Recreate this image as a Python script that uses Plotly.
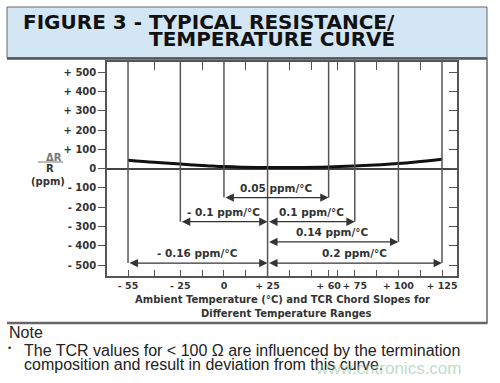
import plotly.graph_objects as go

# ---------------- data ----------------
curve_temp = [-55, -40, -25, -10, 0, 10, 25, 40, 60, 75, 90, 100, 110, 125]
curve_ppm = [44, 33, 24, 16, 11, 8, 6, 6, 9, 14, 21, 27, 35, 49]

x_major = [-55, -25, 0, 25, 60, 75, 100, 125]
x_major_text = ["- 55", "- 25", "0", "+ 25", "+ 60", "+ 75", "+ 100", "+ 125"]
x_minor = [-40, -12.5, 12.5, 37.5, 50, 65, 87.5, 112.5]

y_ticks = [500, 400, 300, 200, 100, 0, -100, -200, -300, -400, -500]
y_ticks_text = ["+ 500", "+ 400", "+ 300", "+ 200", "+ 100", "0",
                "- 100", "- 200", "- 300", "- 400", "- 500"]

chord_label = ["0.05 ppm/°C", "- 0.1 ppm/°C", "0.1 ppm/°C",
               "0.14 ppm/°C", "- 0.16 ppm/°C", "0.2 ppm/°C"]
chord_start = [0, -25, 25, 25, -55, 25]
chord_end = [60, 25, 75, 100, 25, 125]
chord_level = [-150, -275, -275, -380, -490, -490]

# lowest point of each vertical guide line (ppm)
grid_bottom = [-490, -275, -150, -557, -150, -275, -380, -490]

x_range = [-67.05, 133.6]
y_range = [-557, 554]

# ---------------- layout helpers (pixel -> paper) ----------------
L, R, T, B = 107, 457, 62, 276
W, H = R - L, B - T


def px(x):
    return (x - L) / W


def py(y):
    return (B - y) / H


CH = "DejaVu Sans"
NF = "Liberation Sans"
dark = "#333333"
linec = "#555555"

fig = go.Figure()

fig.add_trace(go.Scatter(
    x=curve_temp, y=curve_ppm, mode="lines",
    line=dict(color="#111111", width=3, shape="spline"),
    hoverinfo="skip", showlegend=False))

# invisible trace for secondary axes
fig.add_trace(go.Scatter(x=[0], y=[0], xaxis="x2", yaxis="y2", mode="markers",
                         marker=dict(opacity=0), showlegend=False, hoverinfo="skip"))

shapes = []
# vertical guide lines
for t, yb in zip(x_major, grid_bottom):
    shapes.append(dict(type="line", xref="x", yref="y", x0=t, x1=t, y0=yb, y1=y_range[1],
                       line=dict(color=linec, width=1.5)))

# banner & frame
shapes.append(dict(type="rect", xref="paper", yref="paper",
                   x0=px(7), x1=px(487), y0=py(58), y1=py(7),
                   fillcolor="#d3e6f4", line=dict(color="#666666", width=1), layer="below"))
shapes.append(dict(type="line", xref="paper", yref="paper",
                   x0=px(7), x1=px(487), y0=py(58.5), y1=py(58.5),
                   line=dict(color="#555555", width=2.5)))
shapes.append(dict(type="line", xref="paper", yref="paper",
                   x0=px(487), x1=px(487), y0=py(58), y1=py(323),
                   line=dict(color="#666666", width=1.5)))
shapes.append(dict(type="line", xref="paper", yref="paper",
                   x0=px(7), x1=px(487.5), y0=py(323), y1=py(323),
                   line=dict(color="#666666", width=2.5)))
# fraction bar of ΔR/R
shapes.append(dict(type="line", xref="paper", yref="paper",
                   x0=px(38), x1=px(63), y0=py(162), y1=py(162),
                   line=dict(color="#777777", width=1)))

ann = []
# chord arrows and labels
for lab, s, e, lv in zip(chord_label, chord_start, chord_end, chord_level):
    ann.append(dict(x=e, y=lv, ax=s, ay=lv, xref="x", yref="y", axref="x", ayref="y",
                    text="", showarrow=True, arrowhead=2, arrowside="end+start",
                    arrowsize=1.4, arrowwidth=1.2, arrowcolor=dark,
                    standoff=0, startstandoff=0))
    ann.append(dict(x=(s + e) / 2, y=lv + 52, xref="x", yref="y", text=lab,
                    showarrow=False, xanchor="center", yanchor="middle",
                    font=dict(family=CH, size=10.5, color=dark, weight="bold")))


def txt(xp, yp, text, font, xanchor="center"):
    ann.append(dict(x=px(xp), y=py(yp), xref="paper", yref="paper", showarrow=False,
                    text=text, xanchor=xanchor, yanchor="middle", font=font))


# title
tf = dict(family=CH, size=20, color="#111111", weight="bold")
txt(397, 21.5, "FIGURE 3 - TYPICAL RESISTANCE/", tf, "right")
txt(397, 39, "TEMPERATURE CURVE", tf, "right")

# y label
txt(54, 157.5, "ΔR", dict(family=CH, size=10, color="#777777", weight="bold"))
txt(50, 168.7, "R", dict(family=CH, size=10, color=dark, weight="bold"))
txt(48, 181.5, "(ppm)", dict(family=CH, size=10, color=dark, weight="bold"))

# x label
xf = dict(family=CH, size=10, color=dark, weight="bold")
txt(282.5, 299, "Ambient Temperature (°C) and TCR Chord Slopes for", xf)
txt(286.7, 313, "Different Temperature Ranges", xf)

# note
nf = dict(family=NF, size=16, color="#222222")
txt(7, 333, "Note", nf, "left")
txt(6, 348, "•", dict(family=NF, size=9, color="#222222"), "left")
txt(22, 350.5, "The TCR values for < 100 Ω are influenced by the termination", nf, "left")
txt(22, 364.5, "composition and result in deviation from this curve.", nf, "left")
# watermark
txt(313, 368, "www.cntronics.com",
    dict(family=NF, size=17, color="rgba(130,190,150,0.55)"), "left")

tickfont = dict(family=CH, size=10, color=dark, weight="bold")
xtickfont = dict(family=CH, size=9.5, color=dark, weight="bold")

fig.update_layout(
    width=500, height=383,
    margin=dict(l=L, r=500 - R, t=T, b=383 - B, pad=0, autoexpand=False),
    paper_bgcolor="white", plot_bgcolor="white",
    showlegend=False,
    shapes=shapes, annotations=ann,
    xaxis=dict(range=x_range, tickmode="array", tickvals=x_major, ticktext=x_major_text,
               ticks="inside", ticklen=6, tickwidth=1.3, tickcolor=linec,
               showline=True, linecolor=linec, linewidth=1.5, tickangle=0,
               automargin=False,
               showgrid=False, zeroline=False, tickfont=xtickfont,
               minor=dict(tickmode="array", tickvals=x_minor, ticks="inside",
                          ticklen=6, tickwidth=1.3, tickcolor=linec, showgrid=False)),
    xaxis2=dict(range=x_range, overlaying="x", side="top", matches="x",
                tickmode="array", tickvals=x_minor, ticks="inside", ticklen=8,
                tickwidth=1.3, tickcolor=linec, showticklabels=False, automargin=False,
                showline=True, linecolor=linec, linewidth=1.5,
                showgrid=False, zeroline=False),
    yaxis=dict(range=y_range, tickmode="array", tickvals=y_ticks, ticktext=y_ticks_text,
               ticks="outside", ticklen=7, tickwidth=1.3, tickcolor=linec,
               showline=True, linecolor=linec, linewidth=1.5, automargin=False,
               showgrid=False, zeroline=True, zerolinecolor="#444444", zerolinewidth=1.5,
               tickfont=tickfont),
    yaxis2=dict(range=y_range, overlaying="y", side="right", matches="y",
                tickmode="array", tickvals=y_ticks, ticks="inside", ticklen=8,
                tickwidth=1.3, tickcolor=linec, showticklabels=False, automargin=False,
                showline=True, linecolor=linec, linewidth=1.5,
                showgrid=False, zeroline=False),
)

fig.write_html("out.html", config={"displayModeBar": False},
               post_script="document.body.style.margin='0';document.body.style.overflow='hidden';")
